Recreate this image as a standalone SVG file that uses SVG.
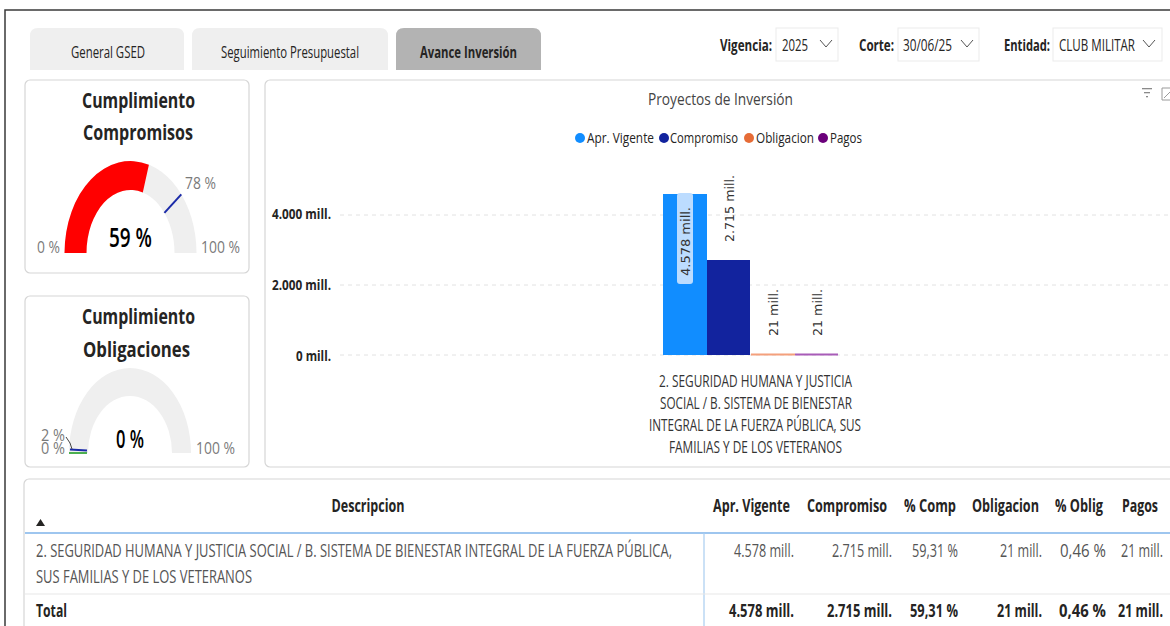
<svg xmlns="http://www.w3.org/2000/svg" width="1170" height="626" viewBox="0 0 1170 626">
<defs>
<style>
text{font-family:"Open Sans","Noto Sans","Liberation Sans",sans-serif;fill:#252423}
.tb{font-size:16px}
.b{font-weight:700}
.card{fill:#fff;stroke:#d6d6d6;stroke-width:1.2}
.tab{fill:#efefef}
.gl{fill:#7a7a7a;font-size:17px}
.ttl{font-size:21px;font-weight:700}
.grid{stroke:#e2e2e2;stroke-width:1;stroke-dasharray:4 4}
.ax{font-size:15px;font-weight:700}
.cat{font-size:15.5px;fill:#333}
.lg{font-size:15px}
.dl{font-family:"DejaVu Sans","Open Sans",sans-serif;font-size:11.5px;fill:#333}
.th{font-size:17.5px;font-weight:700}
.td{font-size:17.5px;fill:#555}
.chev{fill:none;stroke:#555;stroke-width:1}
.sl{fill:#fff;stroke:#ebebeb;stroke-width:1}
</style>
</defs>
<rect width="1170" height="626" fill="#fff"/>
<path d="M5 626 V10 H1170" fill="none" stroke="#3a3a3a" stroke-width="1.5"/>

<g id="tabs">
<path class="tab" d="M30 70 V36 Q30 28 38 28 H176 Q184 28 184 36 V70 Z"/>
<text class="tb" x="71" y="58" textLength="74" lengthAdjust="spacingAndGlyphs">General GSED</text>
<path class="tab" d="M192 70 V36 Q192 28 200 28 H380 Q388 28 388 36 V70 Z"/>
<text class="tb" x="221" y="58" textLength="138" lengthAdjust="spacingAndGlyphs">Seguimiento Presupuestal</text>
<path d="M396 70 V36 Q396 28 404 28 H533 Q541 28 541 36 V70 Z" fill="#b3b3b3"/>
<text class="tb b" x="420" y="58" textLength="97" lengthAdjust="spacingAndGlyphs">Avance Inversión</text>
</g>

<g id="slicers">
<text class="tb b" x="720" y="51" textLength="52" lengthAdjust="spacingAndGlyphs">Vigencia:</text>
<rect class="sl" x="776" y="28" width="62" height="33"/>
<text class="tb" x="782" y="51" textLength="26" lengthAdjust="spacingAndGlyphs">2025</text>
<polyline class="chev" points="820,40 826,47 832,40"/>
<text class="tb b" x="859" y="51" textLength="35" lengthAdjust="spacingAndGlyphs">Corte:</text>
<rect class="sl" x="898" y="28" width="81" height="33"/>
<text class="tb" x="903" y="51" textLength="49" lengthAdjust="spacingAndGlyphs">30/06/25</text>
<polyline class="chev" points="961,40 967,47 973,40"/>
<text class="tb b" x="1004" y="51" textLength="46" lengthAdjust="spacingAndGlyphs">Entidad:</text>
<rect class="sl" x="1053" y="28" width="109" height="33"/>
<text class="tb" x="1059" y="51" textLength="76" lengthAdjust="spacingAndGlyphs">CLUB MILITAR</text>
<polyline class="chev" points="1143,40 1149,47 1155,40"/>
</g>

<g id="gauge-compromisos">
<rect class="card" x="25" y="80" width="224" height="193" rx="5"/>
<text class="ttl" x="138.5" y="108" text-anchor="middle" textLength="113" lengthAdjust="spacingAndGlyphs">Cumplimiento</text>
<text class="ttl" x="138" y="140" text-anchor="middle" textLength="110" lengthAdjust="spacingAndGlyphs">Compromisos</text>
<path d="M64.5 253 A66 92 0 0 1 196.5 253 L174.5 253 A44 63 0 0 0 86.5 253 Z" fill="#efefef"/>
<path d="M64.5 253 A66 92 0 0 1 148.9 164.7 L142.8 192.5 A44 63 0 0 0 86.5 253 Z" fill="#ff0000"/>
<line x1="164.4" y1="212.9" x2="181.3" y2="194.4" stroke="#1a2aa8" stroke-width="2"/>
<text class="gl" x="185" y="189" textLength="31" lengthAdjust="spacingAndGlyphs">78 %</text>
<text class="gl" x="37" y="253" textLength="23" lengthAdjust="spacingAndGlyphs">0 %</text>
<text class="gl" x="201" y="253" textLength="39" lengthAdjust="spacingAndGlyphs">100 %</text>
<text x="130.5" y="247" text-anchor="middle" font-size="27" font-weight="600" textLength="43" lengthAdjust="spacingAndGlyphs" style="fill:#000">59 %</text>
</g>

<g id="gauge-obligaciones">
<rect class="card" x="25" y="296" width="224" height="171" rx="5"/>
<text class="ttl" x="138.5" y="324" text-anchor="middle" textLength="113" lengthAdjust="spacingAndGlyphs">Cumplimiento</text>
<text class="ttl" x="136.5" y="357" text-anchor="middle" textLength="107" lengthAdjust="spacingAndGlyphs">Obligaciones</text>
<path d="M69 453 A61 85 0 0 1 191 453 L172 453 A42 57 0 0 0 88 453 Z" fill="#efefef"/>
<line x1="69" y1="453" x2="87" y2="453" stroke="#4caf50" stroke-width="2"/>
<line x1="70" y1="449.5" x2="87" y2="450.5" stroke="#1a2aa8" stroke-width="2"/>
<polyline points="66,437 70,443 72,449" fill="none" stroke="#444" stroke-width="1"/>
<text class="gl" x="41" y="441" textLength="24" lengthAdjust="spacingAndGlyphs">2 %</text>
<text class="gl" x="41" y="454" textLength="24" lengthAdjust="spacingAndGlyphs">0 %</text>
<text x="130" y="448" text-anchor="middle" font-size="26" font-weight="600" textLength="28" lengthAdjust="spacingAndGlyphs" style="fill:#000">0 %</text>
<text class="gl" x="196" y="454" textLength="39" lengthAdjust="spacingAndGlyphs">100 %</text>
</g>

<g id="chart">
<rect class="card" x="265" y="80" width="920" height="387" rx="5"/>
<text x="648" y="105" font-size="17" style="fill:#444" textLength="145" lengthAdjust="spacingAndGlyphs">Proyectos de Inversión</text>
<g fill="#8a8a8a">
<rect x="1142" y="88" width="10" height="1.3"/>
<rect x="1144" y="92" width="6" height="1.3"/>
<rect x="1146" y="96" width="2" height="1.3"/>
</g>
<path d="M1170 88 H1162 V100 H1170 M1164 98 L1170 92" fill="none" stroke="#9a9a9a" stroke-width="1"/>
<circle cx="580" cy="138" r="5" fill="#118dff"/>
<text class="lg" x="587" y="143" textLength="67" lengthAdjust="spacingAndGlyphs">Apr. Vigente</text>
<circle cx="664" cy="138" r="5" fill="#12239e"/>
<text class="lg" x="670" y="143" textLength="68" lengthAdjust="spacingAndGlyphs">Compromiso</text>
<circle cx="749" cy="138" r="5" fill="#e66c37"/>
<text class="lg" x="756" y="143" textLength="58" lengthAdjust="spacingAndGlyphs">Obligacion</text>
<circle cx="823" cy="138" r="5" fill="#6b007b"/>
<text class="lg" x="830" y="143" textLength="32" lengthAdjust="spacingAndGlyphs">Pagos</text>
<line class="grid" x1="340" y1="215" x2="1170" y2="215"/>
<line class="grid" x1="340" y1="285" x2="1170" y2="285"/>
<line class="grid" x1="340" y1="355" x2="1170" y2="355"/>
<text class="ax" x="331" y="219" text-anchor="end" textLength="59" lengthAdjust="spacingAndGlyphs">4.000 mill.</text>
<text class="ax" x="331" y="290" text-anchor="end" textLength="59" lengthAdjust="spacingAndGlyphs">2.000 mill.</text>
<text class="ax" x="331" y="361" text-anchor="end" textLength="35" lengthAdjust="spacingAndGlyphs">0 mill.</text>
<rect x="663" y="194" width="44" height="161" fill="#118dff"/>
<rect x="707" y="260" width="43" height="95" fill="#12239e"/>
<rect x="751" y="353.5" width="44" height="2" fill="#f4a07c"/>
<rect x="795" y="353.5" width="43" height="2" fill="#a85cb8"/>
<rect x="677" y="193" width="16" height="91" rx="3" fill="#bcdcff"/>
<text class="dl" transform="translate(689.5,276) rotate(-90)" textLength="69" lengthAdjust="spacingAndGlyphs">4.578 mill.</text>
<text class="dl" transform="translate(733.5,242) rotate(-90)" textLength="67" lengthAdjust="spacingAndGlyphs">2.715 mill.</text>
<text class="dl" transform="translate(777.5,336) rotate(-90)" textLength="47" lengthAdjust="spacingAndGlyphs">21 mill.</text>
<text class="dl" transform="translate(821.5,336) rotate(-90)" textLength="47" lengthAdjust="spacingAndGlyphs">21 mill.</text>
<text class="cat" x="755.5" y="387" text-anchor="middle" textLength="193" lengthAdjust="spacingAndGlyphs">2. SEGURIDAD HUMANA Y JUSTICIA</text>
<text class="cat" x="756" y="409" text-anchor="middle" textLength="192" lengthAdjust="spacingAndGlyphs">SOCIAL / B. SISTEMA DE BIENESTAR</text>
<text class="cat" x="755" y="431" text-anchor="middle" textLength="212" lengthAdjust="spacingAndGlyphs">INTEGRAL DE LA FUERZA PÚBLICA, SUS</text>
<text class="cat" x="755.5" y="453" text-anchor="middle" textLength="173" lengthAdjust="spacingAndGlyphs">FAMILIAS Y DE LOS VETERANOS</text>
</g>

<g id="table">
<rect class="card" x="24" y="479" width="1160" height="160" rx="5"/>
<text class="th" x="368" y="512" text-anchor="middle" textLength="73" lengthAdjust="spacingAndGlyphs">Descripcion</text>
<path d="M36 526 L40.5 519 L45 526 Z" fill="#252423"/>
<text class="th" x="790" y="512" text-anchor="end" textLength="77" lengthAdjust="spacingAndGlyphs">Apr. Vigente</text>
<text class="th" x="887" y="512" text-anchor="end" textLength="80" lengthAdjust="spacingAndGlyphs">Compromiso</text>
<text class="th" x="956" y="512" text-anchor="end" textLength="52" lengthAdjust="spacingAndGlyphs">% Comp</text>
<text class="th" x="1039" y="512" text-anchor="end" textLength="67" lengthAdjust="spacingAndGlyphs">Obligacion</text>
<text class="th" x="1103" y="512" text-anchor="end" textLength="48" lengthAdjust="spacingAndGlyphs">% Oblig</text>
<text class="th" x="1158" y="512" text-anchor="end" textLength="36" lengthAdjust="spacingAndGlyphs">Pagos</text>
<line x1="25" y1="533" x2="1170" y2="533" stroke="#7eb3ea" stroke-width="1.5"/>
<line x1="704" y1="533" x2="704" y2="626" stroke="#a8cdf0" stroke-width="1.2"/>
<line x1="25" y1="594" x2="1170" y2="594" stroke="#e8e8e8" stroke-width="1.2"/>
<text class="td" x="36" y="557" textLength="636" lengthAdjust="spacingAndGlyphs">2. SEGURIDAD HUMANA Y JUSTICIA SOCIAL / B. SISTEMA DE BIENESTAR INTEGRAL DE LA FUERZA PÚBLICA,</text>
<text class="td" x="36" y="583" textLength="216" lengthAdjust="spacingAndGlyphs">SUS FAMILIAS Y DE LOS VETERANOS</text>
<text class="td" x="794" y="557" text-anchor="end" textLength="60" lengthAdjust="spacingAndGlyphs">4.578 mill.</text>
<text class="td" x="892" y="557" text-anchor="end" textLength="60" lengthAdjust="spacingAndGlyphs">2.715 mill.</text>
<text class="td" x="958" y="557" text-anchor="end" textLength="46" lengthAdjust="spacingAndGlyphs">59,31 %</text>
<text class="td" x="1042" y="557" text-anchor="end" textLength="42" lengthAdjust="spacingAndGlyphs">21 mill.</text>
<text class="td" x="1106" y="557" text-anchor="end" textLength="46" lengthAdjust="spacingAndGlyphs">0,46 %</text>
<text class="td" x="1163" y="557" text-anchor="end" textLength="42" lengthAdjust="spacingAndGlyphs">21 mill.</text>
<text class="th" x="36" y="617" textLength="31" lengthAdjust="spacingAndGlyphs">Total</text>
<text class="th" x="794" y="617" text-anchor="end" textLength="65" lengthAdjust="spacingAndGlyphs">4.578 mill.</text>
<text class="th" x="892" y="617" text-anchor="end" textLength="65" lengthAdjust="spacingAndGlyphs">2.715 mill.</text>
<text class="th" x="958" y="617" text-anchor="end" textLength="48" lengthAdjust="spacingAndGlyphs">59,31 %</text>
<text class="th" x="1042" y="617" text-anchor="end" textLength="45" lengthAdjust="spacingAndGlyphs">21 mill.</text>
<text class="th" x="1106" y="617" text-anchor="end" textLength="47" lengthAdjust="spacingAndGlyphs">0,46 %</text>
<text class="th" x="1163" y="617" text-anchor="end" textLength="45" lengthAdjust="spacingAndGlyphs">21 mill.</text>
</g>
</svg>
